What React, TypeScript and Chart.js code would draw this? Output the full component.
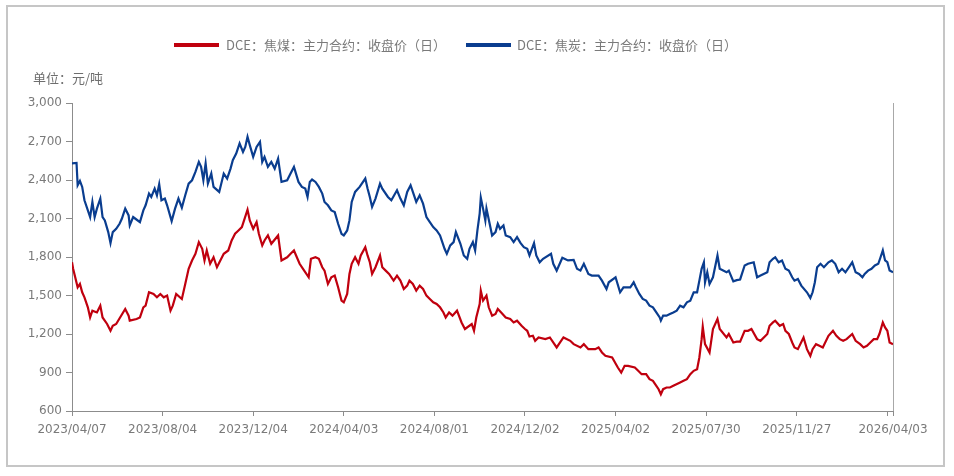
import React, { useEffect, useRef } from "react";
import { Chart, registerables } from "chart.js";

Chart.register(...registerables);

// Trading-day index positions of x-axis ticks and their labels
const tickDays = [0, 80, 160, 240, 320, 400, 480, 560, 640, 720, 725];
const tickLabels = [
  "2023/04/07", "2023/08/04", "2023/12/04", "2024/04/03", "2024/08/01",
  "2024/12/02", "2025/04/02", "2025/07/30", "2025/11/27", "", "2026/04/03",
];

const seriesNames = ["DCE：焦煤：主力合约：收盘价（日）", "DCE：焦炭：主力合约：收盘价（日）"];
const unitLabel = "单位：元/吨";

// 焦煤 (coking coal) — trading-day index and close price
const cokingCoalDays = [
  0, 1, 5, 7, 9, 11, 14, 16, 18, 22, 25, 27, 31, 34, 36, 39, 47, 50, 51, 57, 60, 63, 65, 68, 72, 75, 78, 81, 84, 87, 89, 92, 97,
  100, 103, 106, 109, 112, 115, 117, 119, 122, 125, 128, 134, 138, 141, 144, 147, 150, 155, 157, 160, 163, 165, 168, 170, 173, 176,
  182, 185, 190, 193, 196, 201, 204, 209, 211, 215, 218, 221, 223, 226, 229, 232, 235, 238, 240, 243, 245, 247, 250, 253, 255, 259,
  261, 263, 265, 268, 272, 274, 277, 280, 284, 287, 290, 293, 296, 298, 301, 304, 307, 310, 313, 316, 319, 322, 325, 328, 330, 333,
  336, 340, 344, 347, 353, 355, 357, 360, 361, 363, 366, 368, 371, 374, 376, 379, 383, 387, 390, 393, 397, 400, 402, 404, 407, 409,
  412, 418, 422, 428, 431, 434, 440, 443, 449, 452, 456, 462, 465, 468, 471, 477, 482, 485, 488, 491, 497, 500, 503, 507, 510, 513,
  516, 518, 520, 522, 525, 528, 531, 537, 540, 543, 546, 549, 552, 554, 556, 557, 559, 563, 566, 570, 572, 578, 580, 584, 587, 590,
  594, 597, 600, 605, 608, 614, 616, 619, 621, 625, 628, 630, 633, 636, 638, 641, 646, 649, 652, 654, 657, 660, 663, 668, 672, 675,
  678, 681, 684, 689, 692, 696, 699, 702, 705, 708, 711, 713, 716, 718, 720, 722, 725,
];
const cokingCoalPrices = [
  1759, 1708, 1564, 1590, 1525, 1486, 1408, 1329, 1382, 1368, 1421, 1329, 1278, 1225, 1264, 1278, 1395, 1343, 1304, 1317, 1329, 1408, 1421, 1525, 1512, 1486, 1512, 1486, 1499, 1382, 1421, 1512, 1473,
  1590, 1708, 1773, 1825, 1916, 1864, 1773, 1851, 1747, 1798, 1720, 1825, 1851, 1929, 1981, 2007, 2033, 2169, 2085, 2020, 2072, 1981, 1890, 1929, 1968, 1903,
  1968, 1773, 1798, 1825, 1851, 1747, 1708, 1642, 1786, 1798, 1786, 1720, 1694, 1590, 1642, 1655, 1564, 1460, 1447, 1512, 1668, 1747, 1798, 1747, 1812, 1877,
  1812, 1759, 1668, 1720, 1812, 1720, 1694, 1668, 1616, 1655, 1616, 1551, 1577, 1616, 1590, 1538, 1577, 1551, 1499, 1473, 1447, 1434, 1408, 1368, 1329, 1368,
  1343, 1382, 1290, 1239, 1278, 1225, 1329, 1434, 1538, 1460, 1499, 1408, 1343, 1356, 1395, 1368, 1329, 1317, 1290, 1304, 1264, 1239, 1225, 1180, 1186, 1147,
  1173, 1160, 1173, 1095, 1134, 1173, 1147, 1121, 1095, 1121, 1082, 1082, 1095, 1056, 1030, 1017, 939, 899, 952, 952, 939, 913, 887, 887, 848, 835,
  796, 770, 730, 770, 783, 783, 796, 822, 835, 848, 887, 913, 926, 1017, 1160, 1257, 1121, 1056, 1239, 1317, 1239, 1173, 1200, 1134, 1140, 1140,
  1225, 1225, 1239, 1160, 1147, 1200, 1264, 1290, 1304, 1264, 1278, 1225, 1200, 1134, 1095, 1082, 1173, 1082, 1030, 1082, 1121, 1108, 1095, 1186, 1225, 1186,
  1160, 1147, 1160, 1200, 1147, 1121, 1095, 1108, 1134, 1160, 1160, 1200, 1290, 1251, 1225, 1134, 1121,
];

// 焦炭 (coke) — trading-day index and close price
const cokeDays = [
  0, 4, 5, 7, 9, 11, 16, 18, 20, 22, 25, 27, 29, 32, 34, 36, 39, 42, 44, 47, 50, 51, 54, 56, 60, 63, 65, 68, 70, 73, 75, 77, 79, 82, 84, 88,
  91, 94, 97, 100, 103, 106, 109, 112, 114, 116, 118, 120, 123, 125, 130, 134, 137, 140, 142, 145, 148, 151, 153, 155, 157, 160, 163, 166,
  168, 170, 173, 176, 179, 182, 185, 190, 193, 196, 200, 203, 206, 208, 210, 212, 215, 218, 221, 223, 226, 229, 232, 235, 238, 240, 243,
  245, 247, 250, 254, 259, 261, 263, 265, 268, 272, 274, 279, 282, 287, 290, 293, 296, 299, 301, 304, 307, 310, 313, 316, 319, 322, 325,
  327, 329, 331, 334, 337, 339, 343, 346, 349, 351, 354, 356, 358, 360, 361, 363, 365, 366, 371, 374, 376, 378, 381, 383, 387, 390, 393,
  396, 399, 402, 404, 408, 410, 413, 416, 423, 425, 428, 433, 438, 443, 446, 449, 452, 456, 459, 465, 468, 472, 474, 480, 484, 487, 493,
  496, 498, 501, 504, 507, 510, 513, 516, 519, 520, 522, 525, 528, 531, 534, 537, 540, 543, 546, 549, 552, 554, 556, 558, 559, 561, 563,
  566, 570, 572, 578, 580, 584, 587, 590, 594, 597, 602, 605, 608, 614, 616, 619, 621, 624, 627, 630, 633, 636, 638, 641, 644, 649, 652,
  654, 656, 658, 661, 664, 668, 671, 674, 677, 680, 683, 686, 689, 692, 695, 698, 700, 703, 706, 709, 712, 714, 716, 718, 720, 722, 725,
];
const cokePrices = [
  2529, 2533, 2359, 2393, 2346, 2242, 2111, 2229, 2111, 2177, 2255, 2111, 2085, 1994, 1908, 1994, 2020, 2059, 2098, 2177, 2124, 2046, 2111, 2098, 2072, 2163, 2203, 2294, 2268, 2333, 2281, 2367, 2242, 2255, 2203, 2080,
  2177, 2255, 2185, 2281, 2372, 2398, 2463, 2541, 2502, 2398, 2529, 2372, 2450, 2346, 2307, 2450, 2411, 2489, 2554, 2606, 2685, 2619, 2658, 2737, 2672, 2580, 2658, 2697,
  2541, 2580, 2502, 2541, 2489, 2567, 2385, 2398, 2450, 2502, 2385, 2346, 2333, 2268, 2385, 2404, 2385, 2346, 2294, 2229, 2203, 2163, 2150, 2059, 1981, 1968, 2007,
  2085, 2229, 2307, 2346, 2411, 2333, 2268, 2190, 2255, 2372, 2333, 2268, 2242, 2320, 2255, 2203, 2307, 2359, 2307, 2229, 2281, 2216, 2111, 2072, 2033, 2007, 1968,
  1916, 1864, 1825, 1890, 1916, 1994, 1903, 1812, 1786, 1864, 1916, 1851, 2007, 2137, 2263, 2177, 2085, 2177, 1968, 1994, 2059, 2020, 2046, 1968, 1955, 1916, 1955,
  1910, 1877, 1864, 1812, 1908, 1812, 1759, 1786, 1825, 1747, 1694, 1794, 1773, 1778, 1708, 1694, 1747, 1668, 1655, 1655, 1616, 1551, 1603, 1642, 1525, 1564, 1564,
  1603, 1564, 1512, 1473, 1460, 1421, 1408, 1368, 1329, 1304, 1343, 1343, 1356, 1368, 1382, 1421, 1408, 1447, 1460, 1525, 1525, 1616, 1708, 1759, 1603, 1681, 1590,
  1642, 1812, 1708, 1681, 1694, 1610, 1620, 1625, 1734, 1747, 1759, 1642, 1655, 1681, 1759, 1786, 1798, 1759, 1773, 1708, 1694, 1642, 1616, 1629, 1577, 1525, 1481,
  1525, 1603, 1720, 1747, 1720, 1759, 1773, 1747, 1681, 1708, 1681, 1720, 1759, 1681, 1668, 1642, 1668, 1694, 1708, 1734, 1747, 1798, 1851, 1773, 1759, 1694, 1681,
];

const RED = "#C0000E";
const BLUE = "#0A3D8F";
const TEXT = "#7A7A7A";
const AXIS = "#8C8C8C";

const decorPlugin = {
  id: "decor",
  beforeDraw(chart: any) {
    const ctx = chart.ctx;
    ctx.save();
    ctx.fillStyle = "#ffffff";
    ctx.fillRect(0, 0, chart.width, chart.height);
    ctx.strokeStyle = "#C6C6C6";
    ctx.lineWidth = 2;
    ctx.strokeRect(7, 6, 937, 460);
    ctx.restore();
  },
  afterDraw(chart: any) {
    const ctx = chart.ctx;
    const a = chart.chartArea;
    ctx.save();
    // right frame line
    ctx.strokeStyle = "#A8A8A8";
    ctx.lineWidth = 1;
    ctx.beginPath();
    ctx.moveTo(Math.round(a.right) + 0.5, a.top);
    ctx.lineTo(Math.round(a.right) + 0.5, a.bottom);
    ctx.stroke();
    // legend
    ctx.font = "13px 'Noto Sans CJK SC', sans-serif";
    ctx.textBaseline = "middle";
    ctx.textAlign = "left";
    const items = [
      { color: RED, sx: 174, tx: 226, label: seriesNames[0] },
      { color: BLUE, sx: 466, tx: 517, label: seriesNames[1] },
    ];
    for (const it of items) {
      ctx.fillStyle = it.color;
      ctx.fillRect(it.sx, 43, 45, 4);
      ctx.fillStyle = TEXT;
      ctx.fillText(it.label, it.tx, 45);
    }
    // unit label
    ctx.fillStyle = "#6E6E6E";
    ctx.fillText(unitLabel, 33, 78);
    ctx.restore();
  },
};

export default function App() {
  const ref = useRef<HTMLCanvasElement | null>(null);

  useEffect(() => {
    if (!ref.current) return;
    const chart = new Chart(ref.current, {
      type: "line",
      data: {
        datasets: [
          {
            label: seriesNames[0],
            data: cokingCoalDays.map((d, i) => ({ x: d, y: cokingCoalPrices[i] })),
            borderColor: RED,
            backgroundColor: RED,
            borderWidth: 2.2,
            pointRadius: 0,
            tension: 0,
          },
          {
            label: seriesNames[1],
            data: cokeDays.map((d, i) => ({ x: d, y: cokePrices[i] })),
            borderColor: BLUE,
            backgroundColor: BLUE,
            borderWidth: 2.2,
            pointRadius: 0,
            tension: 0,
          },
        ],
      },
      options: {
        animation: false,
        responsive: false,
        devicePixelRatio: 1,
        layout: { padding: { left: 0, right: 61, top: 103, bottom: 35 } },
        plugins: {
          legend: { display: false },
          tooltip: { enabled: false },
        },
        scales: {
          x: {
            type: "linear",
            min: 0,
            max: 725,
            afterBuildTicks: (scale: any) => {
              scale.ticks = tickDays.map((v) => ({ value: v }));
            },
            afterFit: (scale: any) => {
              scale.height = 30;
            },
            grid: {
              display: true,
              drawOnChartArea: false,
              drawTicks: true,
              tickLength: 5,
              color: AXIS,
            },
            border: { display: true, color: AXIS, width: 1 },
            ticks: {
              autoSkip: false,
              maxRotation: 0,
              padding: 7,
              color: TEXT,
              font: { family: "'DejaVu Sans', sans-serif", size: 12 },
              callback: (value: any) => {
                const i = tickDays.indexOf(Number(value));
                return i >= 0 ? tickLabels[i] : "";
              },
            },
          },
          y: {
            min: 600,
            max: 3000,
            afterFit: (scale: any) => {
              scale.width = 72;
            },
            grid: {
              display: true,
              drawOnChartArea: false,
              drawTicks: true,
              tickLength: 6,
              color: AXIS,
            },
            border: { display: true, color: AXIS, width: 1 },
            ticks: {
              stepSize: 300,
              padding: 4,
              color: TEXT,
              font: { family: "'DejaVu Sans', sans-serif", size: 12 },
              callback: (value: any) => Number(value).toLocaleString("en-US"),
            },
          },
        },
      },
      plugins: [decorPlugin],
    });
    return () => chart.destroy();
  }, []);

  return (
    <div style={{ position: "absolute", left: 0, top: 0, width: 954, height: 476 }}>
      <canvas ref={ref} width={954} height={476} style={{ width: 954, height: 476, display: "block" }} />
    </div>
  );
}
